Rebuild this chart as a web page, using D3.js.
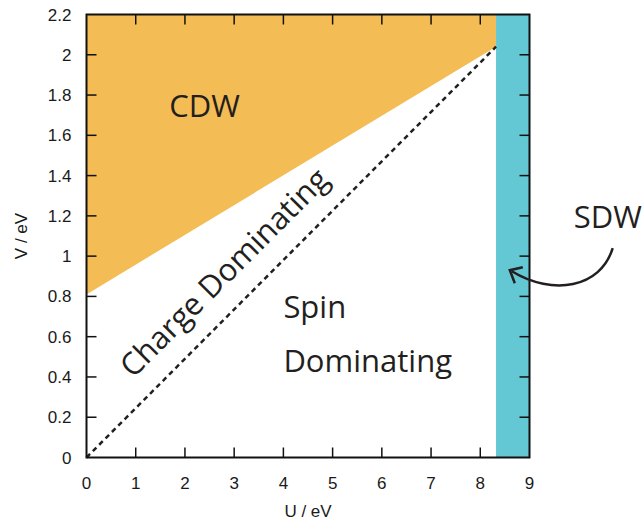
<!DOCTYPE html>
<html>
<head>
<meta charset="utf-8">
<script src="https://cdn.jsdelivr.net/npm/d3@7"></script>
<style>
  body { margin: 0; background: #fff; }
  svg { display: block; }
  .tick-label { font-family: "Liberation Sans", Arial, sans-serif; font-size: 17px; fill: #1a1a1a; }
  .phase { font-family: "Open Sans", "Noto Sans", sans-serif; fill: #231f20; }
</style>
</head>
<body>
<div id="chart"></div>
<script>
// phase diagram data (U, V in eV)
const xTicks = [0, 1, 2, 3, 4, 5, 6, 7, 8, 9];
const yTicks = [0, 0.2, 0.4, 0.6, 0.8, 1, 1.2, 1.4, 1.6, 1.8, 2, 2.2];
const cdwRegion = [[0, 0.81], [0, 2.2], [8.32, 2.2], [8.32, 2.04]];
const sdwBand = [8.32, 9];
const crossover = [[0, 0], [8.32, 2.04]];

const width = 642, height = 523;
const x = d3.scaleLinear().domain([0, 9]).range([86.5, 529.5]);
const y = d3.scaleLinear().domain([0, 2.2]).range([457.5, 14.5]);

const svg = d3.select("#chart").append("svg")
  .attr("width", width)
  .attr("height", height);

const line = d3.line().x(d => x(d[0])).y(d => y(d[1]));

// regions
svg.append("path")
  .attr("d", line(cdwRegion) + "Z")
  .attr("fill", "#f4bc55");

svg.append("rect")
  .attr("x", x(sdwBand[0]))
  .attr("y", y(2.2))
  .attr("width", x(sdwBand[1]) - x(sdwBand[0]))
  .attr("height", y(0) - y(2.2))
  .attr("fill", "#63c8d4");

// dashed boundary line
svg.append("path")
  .attr("d", line(crossover))
  .attr("fill", "none")
  .attr("stroke", "#231f20")
  .attr("stroke-width", 2.5)
  .attr("stroke-dasharray", "5,4");

// frame + inward ticks on all four sides
const tickLen = 10;
const axisColor = "#111";

svg.append("rect")
  .attr("x", x(0)).attr("y", y(2.2))
  .attr("width", x(9) - x(0)).attr("height", y(0) - y(2.2))
  .attr("fill", "none")
  .attr("stroke", axisColor)
  .attr("stroke-width", 2);

const xInner = xTicks.filter(d => d > 0 && d < 9);
const yInner = yTicks.filter(d => d > 0 && d < 2.2);

svg.selectAll(".xtick-b").data(xInner).enter().append("line")
  .attr("x1", d => x(d)).attr("x2", d => x(d))
  .attr("y1", y(0)).attr("y2", y(0) - tickLen)
  .attr("stroke", axisColor).attr("stroke-width", 1.5);

svg.selectAll(".xtick-t").data(xInner).enter().append("line")
  .attr("x1", d => x(d)).attr("x2", d => x(d))
  .attr("y1", y(2.2)).attr("y2", y(2.2) + tickLen)
  .attr("stroke", axisColor).attr("stroke-width", 1.5);

svg.selectAll(".ytick-l").data(yInner).enter().append("line")
  .attr("x1", x(0)).attr("x2", x(0) + tickLen)
  .attr("y1", d => y(d)).attr("y2", d => y(d))
  .attr("stroke", axisColor).attr("stroke-width", 1.5);

svg.selectAll(".ytick-r").data(yInner).enter().append("line")
  .attr("x1", x(9)).attr("x2", x(9) - tickLen)
  .attr("y1", d => y(d)).attr("y2", d => y(d))
  .attr("stroke", axisColor).attr("stroke-width", 1.5);

// tick labels
svg.selectAll(".xl").data(xTicks).enter().append("text")
  .attr("class", "tick-label")
  .attr("x", d => x(d))
  .attr("y", y(0) + 31)
  .attr("text-anchor", "middle")
  .text(d => d);

svg.selectAll(".yl").data(yTicks).enter().append("text")
  .attr("class", "tick-label")
  .attr("x", x(0) - 15)
  .attr("y", d => y(d) + 6)
  .attr("text-anchor", "end")
  .text(d => d3.format("~g")(d));

// axis titles
svg.append("text")
  .attr("class", "tick-label")
  .attr("x", (x(0) + x(9)) / 2)
  .attr("y", 517)
  .attr("text-anchor", "middle")
  .text("U / eV");

svg.append("text")
  .attr("class", "tick-label")
  .attr("transform", `translate(27,${y(1.1)}) rotate(-90)`)
  .attr("text-anchor", "middle")
  .text("V / eV");

// phase labels
svg.append("text")
  .attr("class", "phase")
  .attr("x", x(2.4)).attr("y", y(1.69))
  .attr("text-anchor", "middle")
  .style("font-size", "31px")
  .text("CDW");

svg.append("text")
  .attr("class", "phase")
  .attr("transform", `translate(133,379) rotate(-45)`)
  .style("font-size", "31px")
  .text("Charge Dominating");

svg.append("text")
  .attr("class", "phase")
  .attr("x", x(4.0)).attr("y", y(0.693))
  .style("font-size", "31px")
  .text("Spin");

svg.append("text")
  .attr("class", "phase")
  .attr("x", x(4.0)).attr("y", y(0.425))
  .style("font-size", "31px")
  .text("Dominating");

svg.append("text")
  .attr("class", "phase")
  .attr("x", x(9.9)).attr("y", y(1.14))
  .style("font-size", "31px")
  .text("SDW");

// curved arrow pointing at the SDW band
const arrowStart = [10.69, 1.04], arrowTip = [8.6, 0.93];
const sx = x(arrowStart[0]), sy = y(arrowStart[1]);
const tx = x(arrowTip[0]), ty = y(arrowTip[1]);
svg.append("path")
  .attr("d", `M${sx},${sy} C${sx - 12},${sy + 40} ${sx - 60},${sy + 48} ${tx + 2},${ty + 1}`)
  .attr("fill", "none")
  .attr("stroke", "#231f20")
  .attr("stroke-width", 2.5);

svg.append("path")
  .attr("d", `M${tx + 13},${ty - 3} L${tx},${ty} L${tx + 5},${ty + 13}`)
  .attr("fill", "none")
  .attr("stroke", "#231f20")
  .attr("stroke-width", 2.5)
  .attr("stroke-linejoin", "miter");
</script>
</body>
</html>
